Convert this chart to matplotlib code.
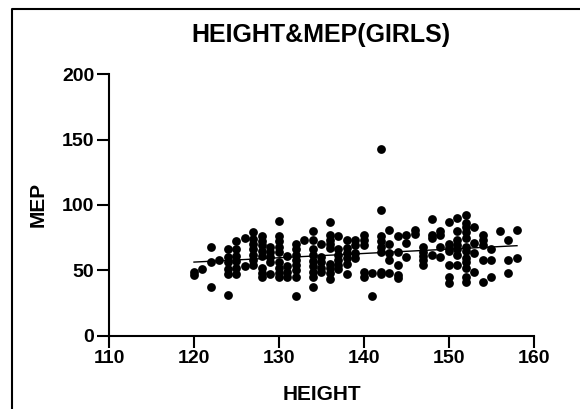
import numpy as np
import matplotlib as mpl
import matplotlib.pyplot as plt
from matplotlib.lines import Line2D

mpl.rcParams["font.family"] = ["Liberation Sans", "DejaVu Sans"]
mpl.rcParams["font.weight"] = "bold"

# MEP values read per height column
mep_by_height = {
    120: [46, 49],
    121: [51],
    122: [68, 56, 37],
    123: [58],
    124: [66, 60, 56, 51, 47, 31],
    125: [72, 66, 61, 57, 52, 47],
    126: [75, 53],
    127: [79, 74, 70, 66, 62, 58, 54],
    128: [76, 72, 69, 65, 61, 52, 48, 45],
    129: [68, 64, 60, 56, 47],
    130: [88, 76, 72, 68, 64, 56, 52, 48, 45],
    131: [61, 53, 49, 45],
    132: [70, 66, 62, 58, 54, 50, 45, 30],
    133: [73],
    134: [80, 73, 66, 62, 57, 53, 49, 45, 37],
    135: [70, 60, 56, 52, 49],
    136: [87, 77, 73, 70, 67, 55, 52, 48, 43],
    137: [76, 66, 62, 58, 54, 51],
    138: [73, 67, 63, 59, 55, 47],
    139: [73, 69, 63, 59],
    140: [77, 73, 69, 49, 45],
    141: [48, 30],
    142: [143, 96, 76, 72, 68, 64, 49, 47],
    143: [81, 70, 63, 58, 48],
    144: [76, 64, 54, 46, 44],
    145: [77, 71, 60],
    146: [81, 78],
    147: [68, 64, 61, 58, 54],
    148: [89, 77, 75, 62],
    149: [80, 77, 68, 60],
    150: [87, 70, 67, 65, 54, 45, 40],
    151: [90, 80, 73, 69, 66, 62, 54],
    152: [92, 86, 83, 79, 75, 68, 65, 59, 56, 52, 45, 41],
    153: [83, 71, 63, 49],
    154: [77, 73, 69, 58, 41],
    155: [66, 58, 45],
    156: [80],
    157: [73, 58, 48],
    158: [81, 59],
}

height = np.array([h for h, vals in mep_by_height.items() for _ in vals], dtype=float)
mep = np.array([v for vals in mep_by_height.values() for v in vals], dtype=float)

x_ticks = [110, 120, 130, 140, 150, 160]
y_ticks = [0, 50, 100, 150, 200]

W, H = 580, 409
fig = plt.figure(figsize=(W / 100, H / 100), dpi=100)
ax = fig.add_axes([109 / W, (H - 335.5) / H, 425 / W, 261.2 / H])

ax.scatter(height, mep, s=40, color="black", linewidths=0, zorder=3, clip_on=False)

# linear fit
slope, icpt = np.polyfit(height, mep, 1)
xf = np.array([height.min(), height.max()])
ax.plot(xf, slope * xf + icpt, color="black", lw=1.0, zorder=4)

ax.set_xlim(110, 160)
ax.set_ylim(0, 200)
ax.set_xticks(x_ticks)
ax.set_yticks(y_ticks)
for s in ["top", "right"]:
    ax.spines[s].set_visible(False)
for s in ["left", "bottom"]:
    ax.spines[s].set_linewidth(1.5)
ax.tick_params(axis="both", width=1.5, length=8.5, labelsize=14, pad=2)

ax.set_xlabel("HEIGHT", fontsize=15, fontweight="bold", labelpad=13)
ax.set_ylabel("MEP", fontsize=15, fontweight="bold", labelpad=10)
fig.text(321 / W, 1 - 35 / H, "HEIGHT&MEP(GIRLS)", ha="center", va="center",
         fontsize=18, fontweight="bold")

# outer frame (left and top edges only visible)
fig.add_artist(Line2D([11.5 / W, 11.5 / W, 1.0], [0.0, 1 - 9 / H, 1 - 9 / H],
                      transform=fig.transFigure, color="black", lw=1.5))

fig.savefig("out.png", dpi=100)
